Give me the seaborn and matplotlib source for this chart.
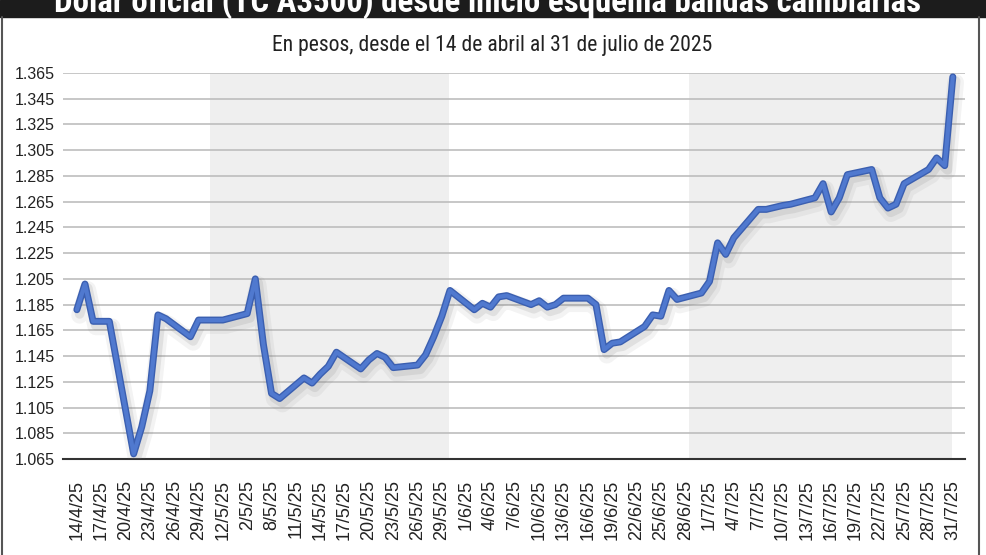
import matplotlib
matplotlib.use('Agg')
import matplotlib.pyplot as plt
import matplotlib.patheffects as pe
from matplotlib import font_manager
from matplotlib.lines import Line2D
from matplotlib.patches import Rectangle
from matplotlib.ticker import FuncFormatter
import pandas as pd
import seaborn as sns

# datos (TC A3500, pesos por dolar)
fechas = [
    '14/4', '15/4', '16/4', '18/4', '21/4', '22/4', '23/4', '24/4', '25/4',
    '28/4', '29/4', '30/4', '2/5', '5/5', '6/5', '7/5', '8/5', '9/5',
    '12/5', '13/5', '14/5', '15/5', '16/5', '19/5', '20/5', '21/5', '22/5',
    '23/5', '26/5', '27/5', '28/5', '29/5', '30/5', '2/6', '3/6', '4/6',
    '5/6', '6/6', '9/6', '10/6', '11/6', '12/6', '13/6', '16/6', '17/6',
    '18/6', '19/6', '20/6', '23/6', '24/6', '25/6', '26/6', '27/6', '30/6',
    '1/7', '2/7', '3/7', '4/7', '7/7', '8/7', '10/7', '11/7', '14/7',
    '15/7', '16/7', '17/7', '18/7', '21/7', '22/7', '23/7', '24/7', '25/7',
    '28/7', '29/7', '30/7', '31/7',
]
valores = [
    1181, 1201, 1172, 1172, 1069, 1090, 1118, 1177, 1174,
    1160, 1173, 1173, 1173, 1178, 1205, 1154, 1116, 1112,
    1128, 1124, 1131, 1137, 1148, 1135, 1142, 1147, 1144,
    1136, 1138, 1146, 1160, 1176, 1196, 1181, 1186, 1183,
    1191, 1192, 1185, 1188, 1183, 1185, 1190, 1190, 1185,
    1150, 1155, 1156, 1168, 1177, 1176, 1196, 1189, 1194,
    1203, 1233, 1224, 1237, 1259, 1259, 1262, 1263, 1268,
    1279, 1257, 1268, 1286, 1290, 1268, 1260, 1263, 1279,
    1290, 1299, 1293, 1362,
]

# etiquetas del eje x tal como aparecen (cada 3 dias)
etiquetas_x = [
    '14/4/25', '17/4/25', '20/4/25', '23/4/25', '26/4/25', '29/4/25',
    '12/5/25', '2/5/25', '8/5/25', '11/5/25', '14/5/25', '17/5/25',
    '20/5/25', '23/5/25', '26/5/25', '29/5/25', '1/6/25', '4/6/25',
    '7/6/25', '10/6/25', '13/6/25', '16/6/25', '19/6/25', '22/6/25',
    '25/6/25', '28/6/25', '1/7/25', '4/7/25', '7/7/25', '10/7/25',
    '13/7/25', '16/7/25', '19/7/25', '22/7/25', '25/7/25', '28/7/25',
    '31/7/25',
]

# franjas grises (mayo y julio)
franjas = [('30/04/2025 10:00', '29/05/2025 20:00'),
           ('28/06/2025 12:00', '30/07/2025 22:00')]

titulo = 'Dólar oficial (TC A3500) desde inicio esquema bandas cambiarias'
subtitulo = 'En pesos, desde el 14 de abril al 31 de julio de 2025'

df = pd.DataFrame({
    'fecha': pd.to_datetime([f + '/2025' for f in fechas], format='%d/%m/%Y'),
    'valor': valores,
})


def elegir_fuente(opciones):
    for f in opciones:
        try:
            font_manager.findfont(f, fallback_to_default=False)
            return f
        except ValueError:
            pass
    return 'DejaVu Sans'


sns.set_style('white')
plt.rcParams['font.family'] = ['Liberation Sans', 'DejaVu Sans']
angosta = elegir_fuente(['Liberation Sans Narrow', 'Roboto Condensed', 'DejaVu Sans'])

W, H = 987, 555
fig = plt.figure(figsize=(W / 100, H / 100), dpi=100)
fig.patch.set_facecolor('white')
ax = fig.add_axes([63 / W, 1 - 459 / H, (965 - 63) / W, (459 - 73) / H])

for a, b in franjas:
    ax.axvspan(pd.to_datetime(a, format='%d/%m/%Y %H:%M'),
               pd.to_datetime(b, format='%d/%m/%Y %H:%M'),
               color='#efefef', lw=0, zorder=0.2)

sns.lineplot(data=df, x='fecha', y='valor', ax=ax, color='#5079cf',
             lw=3.0, zorder=3)
linea = ax.lines[-1]
linea.set_solid_joinstyle('round')
linea.set_path_effects([
    pe.SimpleLineShadow(offset=(2, -4), shadow_color='#7a7a7a', alpha=0.09, linewidth=12),
    pe.SimpleLineShadow(offset=(2, -3), shadow_color='#7a7a7a', alpha=0.15, linewidth=7),
    pe.Stroke(linewidth=5, foreground='#3b5fb0'),
    pe.Normal(),
])

ax.set_ylim(1065, 1365)
ax.set_yticks(range(1065, 1366, 20))
ax.yaxis.set_major_formatter(FuncFormatter(lambda v, p: f'{v:,.0f}'.replace(',', '.')))
ax.yaxis.grid(True, color='#bdbdbd', lw=1.2)
ax.xaxis.grid(False)
ax.set_axisbelow(True)

ticks_x = pd.date_range('2025-04-14', periods=len(etiquetas_x), freq='3D')
ax.set_xticks(ticks_x)
ax.set_xticklabels(etiquetas_x, rotation=90)
ax.set_xlim(ticks_x[0] - pd.Timedelta(hours=41), ticks_x[-1] + pd.Timedelta(hours=36))

ax.tick_params(axis='x', length=0, pad=15, labelsize=13, labelcolor='#222222')
ax.tick_params(axis='y', length=0, pad=6, labelsize=11.5, labelcolor='#222222')
ax.set_xlabel('')
ax.set_ylabel('')
for s in ['left', 'top', 'right']:
    ax.spines[s].set_visible(False)
ax.spines['bottom'].set_color('#333333')
ax.spines['bottom'].set_linewidth(1.5)

# barra negra del titulo (cortada arriba) y bordes laterales
fig.patches.append(Rectangle((0, 1 - 17 / H), 1, 17 / H, transform=fig.transFigure,
                             color='#1c1c1c', zorder=0))
fig.add_artist(Line2D([2 / W, 2 / W], [0, 1 - 17 / H], color='#555555', lw=1.5))
fig.add_artist(Line2D([979 / W, 979 / W], [0, 1 - 17 / H], color='#555555', lw=1.5))

t1 = fig.text(488 / W, 1 - 12 / H, titulo, ha='center', va='baseline', color='white',
              fontsize=20, fontweight='bold', family=[angosta, 'DejaVu Sans'],
              fontstretch='condensed')
t2 = fig.text(492 / W, 1 - 45 / H, subtitulo, ha='center', va='center', color='#222222',
              fontsize=12, family=[angosta, 'DejaVu Sans'], fontstretch='condensed')


def ajustar(t, ancho_px):
    fig.canvas.draw()
    w = t.get_window_extent().width
    t.set_fontsize(t.get_fontsize() * ancho_px / w)


ajustar(t1, 865)
ajustar(t2, 438)

fig.savefig('out.png', dpi=100)
